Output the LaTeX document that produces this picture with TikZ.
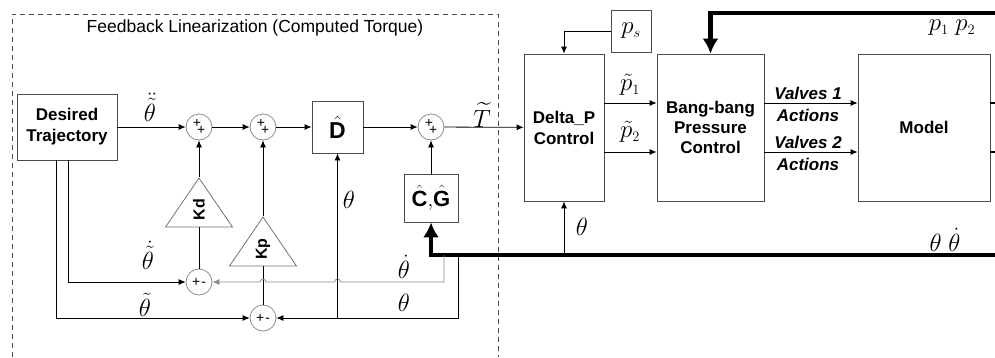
\documentclass[tikz,border=0pt]{standalone}
\usepackage{amsmath, amssymb}
\usepackage{fontspec}
\setmainfont{Liberation Sans}
\usepackage{tikz}
\usetikzlibrary{arrows.meta, shapes.geometric}

\begin{document}
\begin{tikzpicture}[x=1pt, y=-1pt,
    blk/.style={draw=black!70, line width=0.8pt, inner sep=0pt, align=center,
        font=\fontsize{17}{21}\selectfont\bfseries},
    sumnd/.style={circle, draw=black!45, line width=0.8pt, minimum size=26pt,
        inner sep=0pt, font=\fontsize{14}{14}\selectfont},
    gain/.style={isosceles triangle, isosceles triangle stretches, rotate=90,
        anchor=apex, draw=black!55, line width=0.8pt, minimum width=67pt,
        minimum height=49pt, inner sep=0pt, font=\fontsize{16}{16}\selectfont\bfseries},
    lab/.style={inner sep=0pt, font=\fontsize{27}{32}\selectfont},
    arr/.style={-{Latex[length=7pt,width=6pt]}, line width=0.8pt},
    fbarr/.style={-{Latex[length=15pt,width=16pt]}, line width=4.5pt},
]
    \useasboundingbox (0,0) rectangle (995,357);

    % Frame of the feedback linearization part
    \draw[black!70, line width=0.8pt, dash pattern=on 5pt off 4pt] (12,357) |- (498,14) -- (498,357);
    \node[anchor=base, font=\fontsize{17.5}{20}\selectfont] (title) at (255,32) {Feedback Linearization (Computed Torque)};

    % Blocks
    \node[blk, minimum width=100pt, minimum height=66pt] (desired) at (67,127) {Desired\\Trajectory};
    \node[blk, minimum width=51pt, minimum height=52pt, font=\fontsize{23}{26}\selectfont] (dhat) at (337.5,127) {$\hat{\mathbf{D}}$};
    \node[blk, minimum width=54pt, minimum height=48pt, font=\fontsize{22}{26}\selectfont] (cg) at (431,198) {$\hat{\mathbf{C}}{,}\hat{\mathbf{G}}$};
    \node[blk, minimum width=80pt, minimum height=147pt] (deltap) at (564,127.5) {Delta\_P\\Control};
    \node[blk, minimum width=40pt, minimum height=42pt, font=\fontsize{28}{30}\selectfont] (ps) at (631,31) {$p_{\scriptscriptstyle s}$};
    \node[blk, minimum width=107pt, minimum height=147pt, font=\fontsize{17}{20}\selectfont\bfseries] (bang) at (710.5,127.5) {Bang-bang\\Pressure\\Control};
    \node[blk, minimum width=132pt, minimum height=147pt] (model) at (924,127.5) {Model};

    % Summing junctions and gains
    \node[sumnd] (s1) at (199,127) {\raisebox{1pt}{+}\kern-4pt\raisebox{-6pt}{+}};
    \node[sumnd] (s2) at (263,127) {\raisebox{1pt}{+}\kern-4pt\raisebox{-6pt}{+}};
    \node[sumnd] (s5) at (431,127) {\raisebox{1pt}{+}\kern-4pt\raisebox{-6pt}{+}};
    \node[sumnd] (s3) at (199,282) {+\kern1pt-};
    \node[sumnd] (s4) at (263,318) {+\kern1pt-};
    \node[gain] (kd) at (199,177) {Kd};
    \node[gain] (kp) at (263,216) {Kp};

    % Forward path
    \draw[arr] (desired) -- (s1);
    \draw[arr] (s1) -- (s2);
    \draw[arr] (s2) -- (dhat);
    \draw[arr] (dhat) -- (s5);
    \draw[arr] (s5) -- (deltap);
    \draw[arr] (kd.apex) -- (s1);
    \draw[arr] (kp.apex) -- (s2);
    \draw[line width=0.8pt] (s3) -- (kd.lower side);
    \draw[line width=0.8pt] (s4) -- (kp.lower side);
    \draw[arr] (cg) -- (s5);

    % Desired velocity and position
    \draw[arr] ([xshift=1pt]desired.south) |- (s3);
    \draw[arr] ([xshift=-11pt]desired.south) |- (s4);

    % Feedback of the measured states
    \coordinate (fbin) at (995,255);
    \coordinate (tdot) at (444,255);
    \coordinate (tpos) at (458,255);
    \draw[fbarr] (fbin) -| (cg);
    \draw[arr, black!45] (tdot) -- (444,282) -- (340.5,282)
        arc[start angle=0, end angle=-180, radius=3] -- (266,282)
        arc[start angle=0, end angle=-180, radius=3] -- (s3);
    \draw[arr] (tpos) |- (s4);
    \draw[arr] (s4 -| dhat) -- (dhat);
    \draw[arr] (fbin -| deltap) -- (deltap);

    % Pressure loop
    \draw[arr] (ps) -| (deltap);
    \foreach \s in {24.5,-24.5} {
        \draw[arr] ([yshift=\s pt]deltap.east) -- ([yshift=\s pt]bang.west);
        \draw[arr] ([yshift=\s pt]bang.east) -- ([yshift=\s pt]model.west);
        \draw[line width=2pt] ([yshift=\s pt]model.east) -- +(6,0);
    }
    \coordinate (fbp) at (995,13);
    \draw[fbarr] (fbp) -| (bang);

    % Signal labels
    \node[lab] (lddth) at (150,107) {$\ddot{\tilde{\theta}}$};
    \node[lab] (ldth) at (148,255) {$\dot{\tilde{\theta}}$};
    \node[lab] (lth) at (145,305) {$\tilde{\theta}$};
    \node[lab] (lthd) at (349,200) {$\theta$};
    \node[lab] (lfdot) at (404,267) {$\dot{\theta}$};
    \node[lab] (lfpos) at (404,303) {$\theta$};
    \node[lab] (lthp) at (582,227) {$\theta$};
    \node[lab, font=\fontsize{25}{30}\selectfont] (ltq) at (482,115) {$\widetilde{T}$};
    \node[lab] (lp1) at (630,85) {$\tilde{p}_{\scriptscriptstyle 1}$};
    \node[lab] (lp2) at (630,132) {$\tilde{p}_{\scriptscriptstyle 2}$};
    \node[lab] (lstate) at (945,240) {$\theta\;\dot{\theta}$};
    \node[lab] (lpress) at (952,28) {$p_{\scriptscriptstyle 1}\;p_{\scriptscriptstyle 2}$};
    \node[align=center, font=\fontsize{17}{22}\selectfont\bfseries\itshape] (lv1) at (808,104) {Valves 1\\Actions};
    \node[align=center, font=\fontsize{17}{22}\selectfont\bfseries\itshape] (lv2) at (808,153) {Valves 2\\Actions};
\end{tikzpicture}
\end{document}
